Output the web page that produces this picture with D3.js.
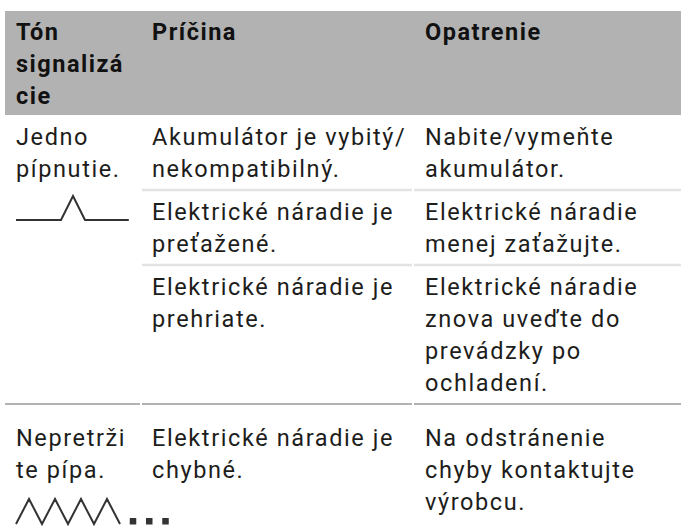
<!DOCTYPE html>
<html>
<head>
<meta charset="utf-8">
<script src="https://cdn.jsdelivr.net/npm/d3@7"></script>
<style>
  html, body { margin: 0; padding: 0; background: #fff; }
  svg { display: block; }
  text { font-family: Roboto, "Noto Sans", sans-serif; }
</style>
</head>
<body>
<svg id="chart" width="681" height="531"></svg>
<script>
// ---- data ----
const headers = [["Tón", "signalizá", "cie"], ["Príčina"], ["Opatrenie"]];
const signals = ["single", "continuous"];
const signalLabels = [["Jedno", "pípnutie."], ["Nepretrži", "te pípa."]];
const causes = [
  [["Akumulátor je vybitý/", "nekompatibilný."], ["Elektrické náradie je", "preťažené."], ["Elektrické náradie je", "prehriate."]],
  [["Elektrické náradie je", "chybné."]]
];
const actions = [
  [["Nabite/vymeňte", "akumulátor."], ["Elektrické náradie", "menej zaťažujte."], ["Elektrické náradie", "znova uveďte do", "prevádzky po", "ochladení."]],
  [["Na odstránenie", "chyby kontaktujte", "výrobcu."]]
];
// tone symbols: [time, level] in tone units
const singleBeepShape = [[0, 0], [3.75, 0], [4.75, 1], [5.75, 0], [9.4, 0]];
const continuousShape = [[0, 0], [1, 1], [2, 0], [3, 1], [4, 0], [5, 1], [6, 0], [7, 1], [8, 0]];
const continuousDots = [8.75, 10.0, 11.25];

// ---- layout ----
const svg = d3.select("#chart");
const W = 681;
const colX = d3.scaleOrdinal().domain([0, 1, 2]).range([5, 141, 413]);
const colText = d3.scaleOrdinal().domain([0, 1, 2]).range([16, 152, 425]);
const LH = 32, FS = 23.5, LS = 1.6;
const colEnd = i => (i < 2 ? colX(i + 1) : W);

// header
const headerTop = 11, headerH = 104;
svg.append("rect").attr("x", 5).attr("y", headerTop).attr("width", W - 5).attr("height", headerH).attr("fill", "#b2b2b2");
headers.forEach((lines, i) => {
  const t = svg.append("text").attr("font-size", FS).attr("font-weight", 700).attr("letter-spacing", LS - 0.1).attr("fill", "#111");
  lines.forEach((l, j) => t.append("tspan").attr("x", colText(i)).attr("y", headerTop + 29 + j * LH).text(l));
});

function drawLines(lines, x, y0) {
  const t = svg.append("text").attr("font-size", FS).attr("letter-spacing", LS).attr("fill", "#1d1d1b");
  lines.forEach((l, j) => t.append("tspan").attr("x", x).attr("y", y0 + j * LH).text(l));
}

let y = headerTop + headerH;
const groupPadTop = [30, 42];
signals.forEach((sig, g) => {
  const groupTop = y;
  let rowTop = y;
  causes[g].forEach((c, r) => {
    const a = actions[g][r];
    const first = rowTop + (r === 0 ? groupPadTop[g] : 30);
    drawLines(c, colText(1), first);
    drawLines(a, colText(2), first);
    const n = Math.max(c.length, a.length);
    const bottom = first + (n - 1) * LH + 13;
    const last = r === causes[g].length - 1;
    const cols = last ? [0, 1, 2] : [1, 2];
    if (!(last && g === signals.length - 1)) {
      cols.forEach(ci => {
        svg.append("line")
          .attr("x1", colX(ci) + (ci === 0 ? 0 : 1)).attr("x2", colEnd(ci) - (ci < 2 ? 1 : 0))
          .attr("y1", bottom).attr("y2", bottom)
          .attr("stroke", last ? "#b2b2b2" : "#e3e3e3").attr("stroke-width", last ? 2.2 : 2.5);
      });
    }
    rowTop = bottom;
  });
  // signal label
  const firstBase = groupTop + groupPadTop[g];
  drawLines(signalLabels[g], colText(0), firstBase);
  const symBase = firstBase + (signalLabels[g].length - 1) * LH + (g === 0 ? 43 : 46);
  if (sig === "single") {
    const sx = d3.scaleLinear().domain([0, 1]).range([16, 28]);
    const sy = d3.scaleLinear().domain([0, 1]).range([symBase, symBase - 24]);
    svg.append("path").attr("d", d3.line().x(d => sx(d[0])).y(d => sy(d[1]))(singleBeepShape))
      .attr("fill", "none").attr("stroke", "#333").attr("stroke-width", 2);
  } else {
    const sx = d3.scaleLinear().domain([0, 1]).range([16, 29]);
    const sy = d3.scaleLinear().domain([0, 1]).range([symBase, symBase - 25]);
    svg.append("path").attr("d", d3.line().x(d => sx(d[0])).y(d => sy(d[1]))(continuousShape))
      .attr("fill", "none").attr("stroke", "#333").attr("stroke-width", 2).attr("stroke-linejoin", "miter");
    svg.selectAll(null).data(continuousDots).enter().append("rect")
      .attr("x", d => sx(d)).attr("y", symBase - 6).attr("width", 6.5).attr("height", 6.5).attr("fill", "#333");
  }
  y = rowTop;
});
</script>
</body>
</html>
